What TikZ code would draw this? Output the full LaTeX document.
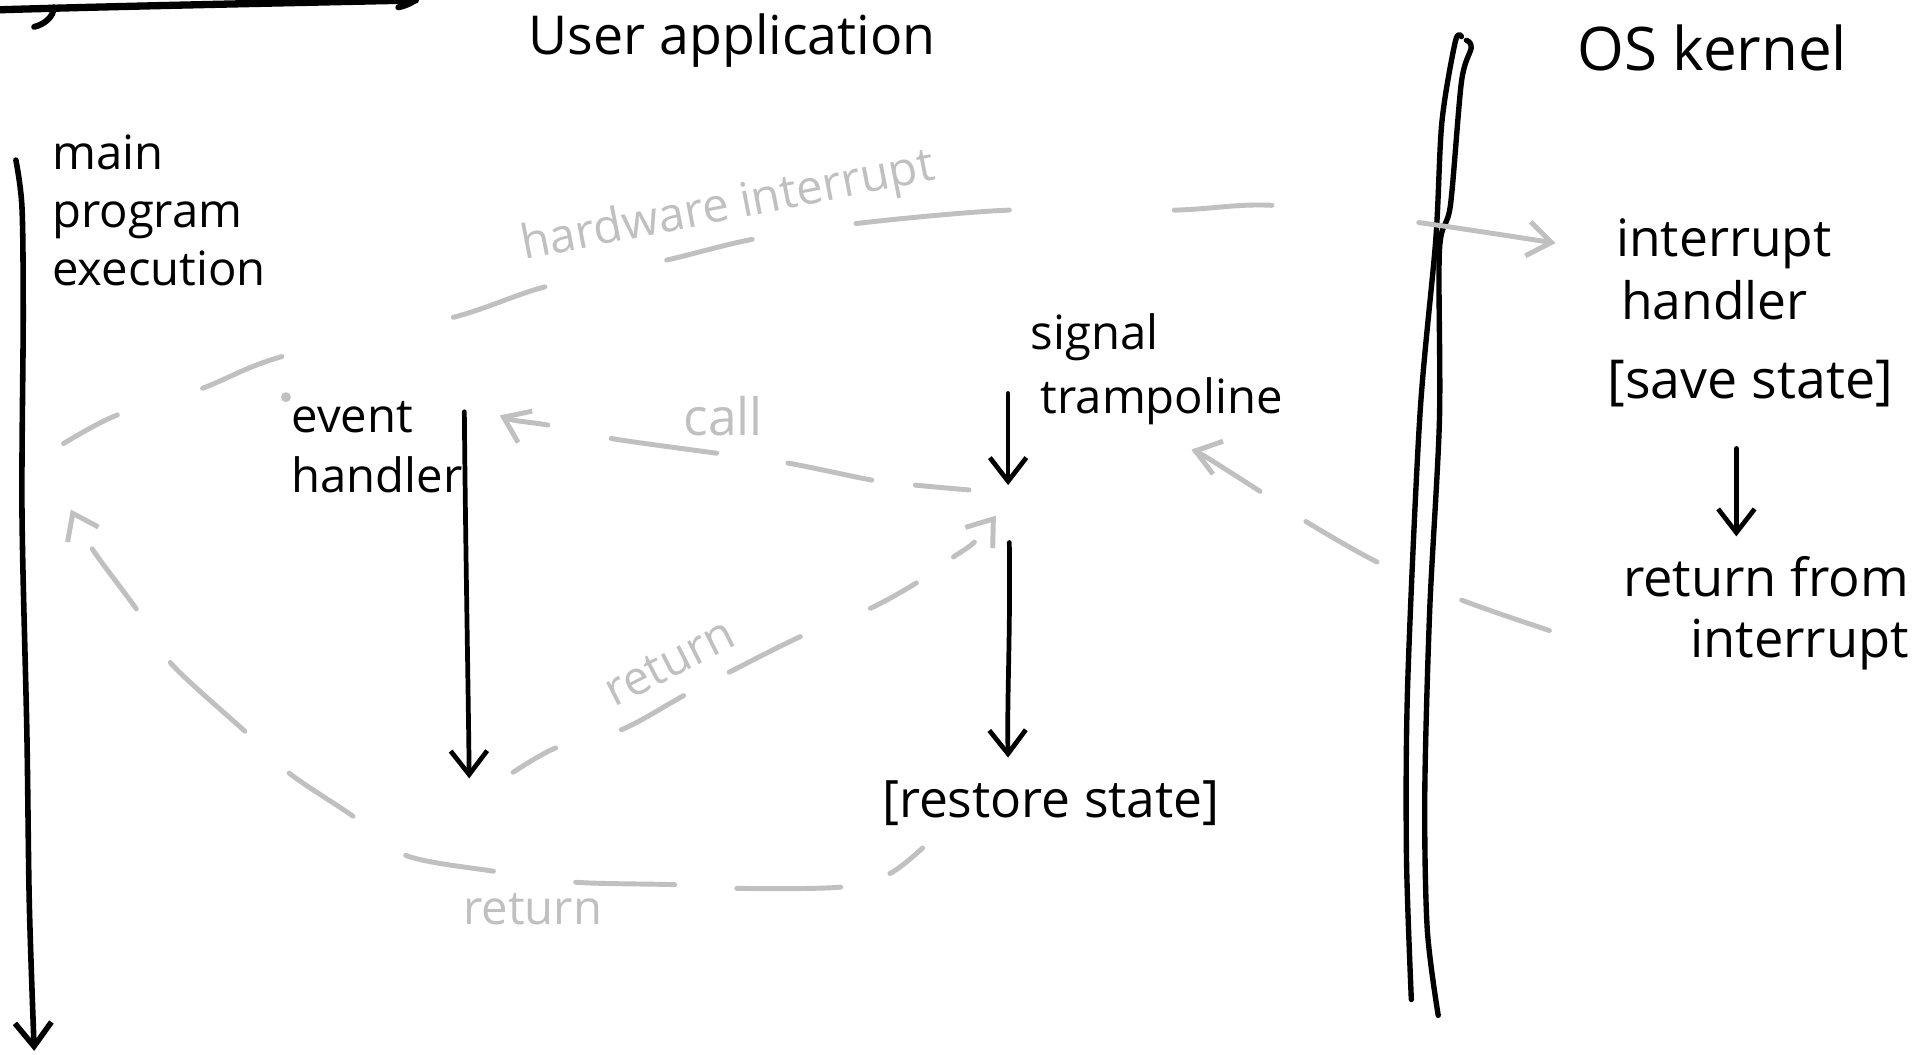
\documentclass[tikz,border=0pt]{standalone}
\usepackage{fontspec}
\setmainfont{Open Sans}
\usetikzlibrary{arrows.meta}
\definecolor{pale}{RGB}{192,192,192}
\begin{document}
\begin{tikzpicture}[x=0.1mm,y=-0.1mm,
  ink/.style={line width=1.1pt, line cap=round, line join=round, draw=black},
  inkarrow/.style={ink, -{Straight Barb[length=5.5pt,width=8.5pt]}},
  paleline/.style={line width=1.15pt, line cap=round, line join=round, draw=pale},
  palearrow/.style={paleline, -{Straight Barb[length=5.5pt,width=8pt]}},
  lbl/.style={inner sep=0pt, align=left, text=black},
  palelbl/.style={inner sep=0pt, text=pale},
]
\fill[white] (0,0) rectangle (1568,863);
\useasboundingbox (0,0) rectangle (1568,863);

% top fragment
\draw[ink, line width=1.7pt] (0,8) .. controls (100,5) and (250,2) .. (340,0);
\draw[ink, line width=1.4pt] (44,6) .. controls (44,14) and (36,20) .. (28,22);
\draw[ink, line width=1.4pt] (340,0) .. controls (336,3) and (331,5) .. (326,6);

% titles
\node[lbl, anchor=base west, font=\fontsize{12.5}{15}\selectfont] (userapp) at (432,45) {User application};
\node[lbl, anchor=base west, font=\fontsize{14}{17}\selectfont] (oskernel) at (1290,58) {OS kernel};

% kernel boundary (double line)
\draw[ink, line width=1.25pt] plot[smooth] coordinates {(1196,30) (1191,34) (1180,100) (1175,196) (1162,340) (1152,560) (1151,700) (1155,818)};
\draw[ink, line width=1.25pt] plot[smooth] coordinates {(1200,33) (1204,39) (1196,67) (1187,168) (1178,205) (1178,344) (1170,500) (1166,650) (1168,760) (1177,831)};

% labels
\node[lbl, anchor=north west, font=\fontsize{11}{13.5}\selectfont] (mainlbl) at (42,110) {main\\program\\execution};
\node[lbl, anchor=north west, font=\fontsize{11}{14}\selectfont] (evh) at (238,328) {event\\handler};
\node[lbl, anchor=north west, font=\fontsize{11}{14.8}\selectfont] (sig) at (843,256) {signal\\\hspace*{0.8mm}trampoline};
\node[lbl, anchor=north west, font=\fontsize{12}{14.8}\selectfont] (ih) at (1322,178) {interrupt\\\hspace*{0.4mm}handler};
\node[lbl, anchor=north west, font=\fontsize{12.5}{15}\selectfont] (save) at (1315,294) {[save state]};
\node[lbl, anchor=north east, align=right, font=\fontsize{12.2}{14.2}\selectfont] (rfi) at (1563,455) {return from\\interrupt};
\node[lbl, anchor=center, font=\fontsize{12}{15}\selectfont] (restore) at (860,657) {[restore state]};

% gray labels
\node[palelbl, rotate=11, font=\fontsize{11}{13}\selectfont] (hwlbl) at (596,170) {hardware interrupt};
\node[palelbl, font=\fontsize{12}{14}\selectfont] (calllbl) at (592,341) {call};
\node[palelbl, rotate=27, font=\fontsize{11}{13}\selectfont] (retlblA) at (548,542) {return};
\node[palelbl, font=\fontsize{11}{13}\selectfont] (retlblB) at (436,744) {return};
\fill[pale] (234,325) circle (4);

% black arrows
\coordinate (mtop) at (13,131);
\coordinate (mbot) at (28,860);
\draw[inkarrow, line width=1.3pt] plot[smooth] coordinates {(mtop) (18,170) (19,260) (18,420) (22,600) (24,740) (mbot)};

\coordinate (ehtop) at (380,337);
\coordinate (ehbot) at (384,637);
\draw[inkarrow] (ehtop) .. controls (381,450) and (383,550) .. (ehbot);

\coordinate (sigtop) at (825,322);
\coordinate (sigmid) at (825,397);
\draw[inkarrow] (sigtop) -- (sigmid);

\coordinate (sigtop2) at (826,444);
\coordinate (sigbot2) at (825,620);
\draw[inkarrow] (sigtop2) .. controls (827,520) and (824,570) .. (sigbot2);

\coordinate (ktop) at (1421,367);
\coordinate (kbot) at (1421,439);
\draw[inkarrow] (ktop) -- (kbot);

% gray dashed flows
\coordinate (hwstart) at (52,363);
\coordinate (hwend) at (1273,199);
\draw[palearrow, dash pattern=on 5.0mm off 7.3mm on 7.0mm off 14.4mm on 7.9mm off 10.2mm on 7.2mm off 8.6mm on 12.6mm off 13.5mm on 8.0mm off 12.1mm on 40mm]
  plot[smooth] coordinates {(hwstart) (95,340) (165,318) (230,292) (370,260) (445,235) (545,213) (615,196) (700,183) (825,172) (960,172) (1040,168) (1160,182) (hwend)};

\coordinate (callstart) at (793,401);
\coordinate (callend) at (409,340);
\draw[palearrow, dash pattern=on 4.4mm off 3.6mm on 7.0mm off 5.9mm on 8.7mm off 5.3mm on 10mm]
  plot[smooth] coordinates {(callstart) (749,397) (714,393) (645,379) (587,371) (501,359) (449,348) (421,344) (callend)};

\coordinate (retAstart) at (420,632);
\coordinate (retAend) at (815,422);
\draw[palearrow, dash pattern=on 4.0mm off 5.6mm on 5.8mm off 4.2mm on 6.5mm off 6.2mm on 4.3mm off 3.7mm on 2.1mm off 10mm]
  plot[smooth] coordinates {(retAstart) (455,612) (509,597) (560,569) (597,550) (655,521) (712,498) (750,477) (780,456) (797,444) (retAend)};

\coordinate (kretstart) at (1268,516);
\coordinate (kretend) at (975,368);
\draw[palearrow, dash pattern=on 7.6mm off 7.6mm on 6.7mm off 4.5mm on 10mm]
  plot[smooth] coordinates {(kretstart) (1196,491) (1127,460) (1069,427) (1031,402) (987,374) (kretend)};

\coordinate (retBstart) at (755,694);
\coordinate (retBend) at (58,417);
\draw[palearrow, dash pattern=on 3.4mm off 4.2mm on 8.5mm off 5.1mm on 8.1mm off 6.8mm on 7.3mm off 5.4mm on 6.3mm off 5.0mm on 8.3mm off 5.2mm on 6.1mm off 10mm]
  plot[smooth] coordinates {(retBstart) (728,715) (688,726) (603,727) (552,724) (471,722) (404,713) (332,700) (289,668) (237,633) (201,599) (140,543) (112,499) (76,450) (retBend)};
\end{tikzpicture}
\end{document}
